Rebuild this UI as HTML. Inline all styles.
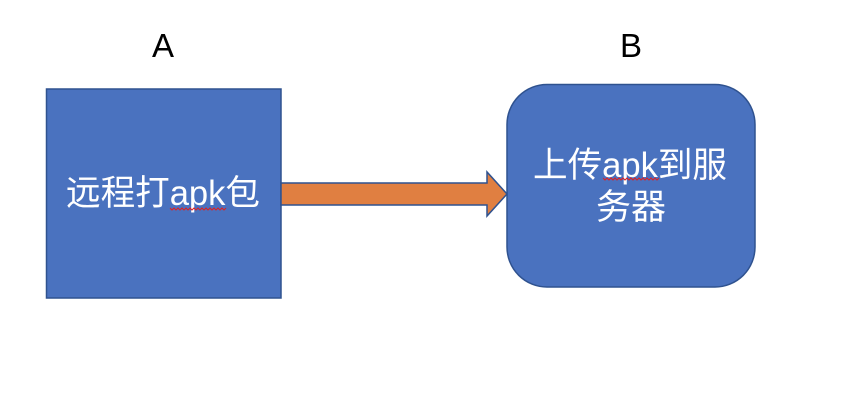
<!DOCTYPE html>
<html><head><meta charset="utf-8"><style>
html,body{margin:0;padding:0;background:#fff;width:850px;height:408px;overflow:hidden}
</style></head><body>
<svg width="850" height="408" xmlns="http://www.w3.org/2000/svg">
<text x="163" y="57" font-family="Liberation Sans, sans-serif" font-size="33" text-anchor="middle" fill="#000">A</text>
<text x="631" y="57" font-family="Liberation Sans, sans-serif" font-size="33" text-anchor="middle" fill="#000">B</text>
<rect x="46.5" y="89" width="234.5" height="209" fill="#4A72BF" stroke="#2F528F" stroke-width="1.5"/>
<rect x="507" y="84.5" width="248" height="202.5" rx="40" ry="40" fill="#4A72BF" stroke="#2F528F" stroke-width="1.5"/>
<polygon points="281,183 487,183 487,172 507,194 487,216 487,205 281,205" fill="#E07F41" stroke="#2F528F" stroke-width="1.5"/>
<g font-family="Liberation Sans, 'Noto Sans CJK SC', sans-serif" font-size="35" fill="#fff" text-anchor="middle">
<text x="163" y="205" textLength="194" lengthAdjust="spacingAndGlyphs">远程打apk包</text>
<text x="630" y="177" textLength="194" lengthAdjust="spacingAndGlyphs">上传apk到服</text>
<text x="631" y="219">务器</text>
</g>
<g fill="none" stroke="#E02020" stroke-width="1">
<path d="M170 208 l2 2 l2 -2 l2 2 l2 -2 l2 2 l2 -2 l2 2 l2 -2 l2 2 l2 -2 l2 2 l2 -2 l2 2 l2 -2 l2 2 l2 -2 l2 2 l2 -2 l2 2 l2 -2 l2 2 l2 -2 l2 2 l2 -2 l2 2 l2 -2 l2 2 l2 -2"/>
<path d="M603 178 l2 2 l2 -2 l2 2 l2 -2 l2 2 l2 -2 l2 2 l2 -2 l2 2 l2 -2 l2 2 l2 -2 l2 2 l2 -2 l2 2 l2 -2 l2 2 l2 -2 l2 2 l2 -2 l2 2 l2 -2 l2 2 l2 -2 l2 2 l2 -2 l2 2 l2 -2"/>
</g>
</svg>
</body></html>
